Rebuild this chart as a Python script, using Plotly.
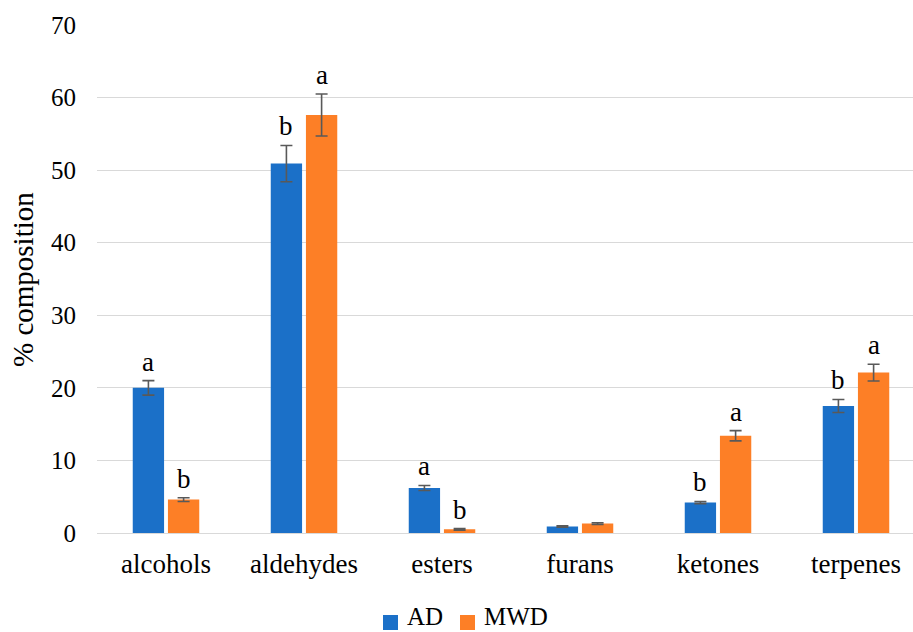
import plotly.graph_objects as go

# Volatile compound classes and their mean share (%) with standard deviations
categories = ["alcohols", "aldehydes", "esters", "furans", "ketones", "terpenes"]
ad_values = [20.0, 50.9, 6.2, 0.9, 4.2, 17.5]
ad_errors = [1.0, 2.5, 0.35, 0.1, 0.15, 0.9]
mwd_values = [4.6, 57.6, 0.5, 1.3, 13.4, 22.1]
mwd_errors = [0.25, 2.9, 0.1, 0.12, 0.7, 1.15]

# Significance letters per class (empty where no difference is marked)
ad_letters = ["a", "b", "a", "", "b", "b"]
mwd_letters = ["b", "a", "b", "", "a", "a"]

series_names = ["AD", "MWD"]
y_ticks = [0, 10, 20, 30, 40, 50, 60, 70]

FONT = "Liberation Serif"
AD_COLOR = "#1B70C8"
MWD_COLOR = "#FD7F26"
ERR_COLOR = "#595959"

W, H = 913, 632
ML, MR, MT, MB = 97, 0, 25, 99
PW, PH = W - ML - MR, H - MT - MB


def px_x(px):
    return (px - ML) / PW


def px_y(py):
    return (H - MB - py) / PH


fig = go.Figure()
fig.add_trace(go.Bar(
    name=series_names[0], x=categories, y=ad_values, marker_color=AD_COLOR,
    marker_line_width=0,
    error_y=dict(type="data", array=ad_errors, color=ERR_COLOR, thickness=1.6, width=6),
))
fig.add_trace(go.Bar(
    name=series_names[1], x=categories, y=mwd_values, marker_color=MWD_COLOR,
    marker_line_width=0,
    error_y=dict(type="data", array=mwd_errors, color=ERR_COLOR, thickness=1.6, width=6),
))

# Letters sit just above each error bar
offset_px = 17.6
for cat, v, e, lab in zip(categories, ad_values, ad_errors, ad_letters):
    if lab:
        fig.add_annotation(x=cat, y=v + e, text=lab, showarrow=False, xshift=-offset_px,
                           yanchor="bottom", yshift=2,
                           font=dict(family=FONT, size=27, color="#000000"))
for cat, v, e, lab in zip(categories, mwd_values, mwd_errors, mwd_letters):
    if lab:
        fig.add_annotation(x=cat, y=v + e, text=lab, showarrow=False, xshift=offset_px,
                           yanchor="bottom", yshift=2,
                           font=dict(family=FONT, size=27, color="#000000"))

# Rotated y-axis title
fig.add_annotation(text="% composition", xref="paper", yref="paper", x=px_x(23), y=px_y(280),
                   textangle=-90, showarrow=False, xanchor="center", yanchor="middle",
                   font=dict(family=FONT, size=29, color="#000000"))

# Legend: square swatches with labels along the bottom edge
legend_items = [(series_names[0], AD_COLOR, 383), (series_names[1], MWD_COLOR, 460)]
for name, color, x0 in legend_items:
    fig.add_shape(type="rect", xref="paper", yref="paper",
                  x0=px_x(x0), x1=px_x(x0 + 15), y0=px_y(630), y1=px_y(615),
                  fillcolor=color, line_width=0)
    fig.add_annotation(text=name, xref="paper", yref="paper", x=px_x(x0 + 22), y=px_y(632),
                       showarrow=False, xanchor="left", yanchor="bottom",
                       font=dict(family=FONT, size=25, color="#000000"))

fig.update_layout(
    width=W, height=H,
    margin=dict(l=ML, r=MR, t=MT, b=MB),
    paper_bgcolor="white", plot_bgcolor="white",
    barmode="group", bargap=0.49, bargroupgap=0.11,
    font=dict(family=FONT, size=25, color="#000000"),
    showlegend=False,
    xaxis=dict(range=[-0.5, 5.413], showgrid=False, showline=False, zeroline=False,
               ticks="", ticklabelstandoff=12,
               tickfont=dict(family=FONT, size=27, color="#000000")),
    yaxis=dict(range=[0, 70], tickvals=y_ticks, showgrid=True, gridcolor="#D9D9D9",
               gridwidth=1.3, zeroline=True, zerolinecolor="#D9D9D9", zerolinewidth=1.3,
               showline=False, ticks="", ticklabelstandoff=20,
               tickfont=dict(family=FONT, size=25, color="#000000")),
)

fig.write_html("out.html")
